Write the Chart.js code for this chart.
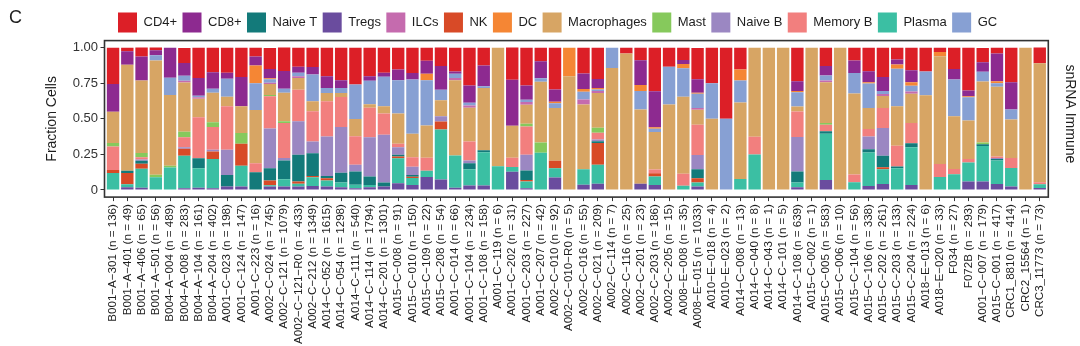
<!DOCTYPE html>
<html>
<head>
<meta charset="utf-8">
<script src="https://cdn.jsdelivr.net/npm/chart.js@4.4.1/dist/chart.umd.min.js"></script>
<style>
  html, body { margin: 0; padding: 0; background: #ffffff; }
  canvas { display: block; }
</style>
</head>
<body>
<canvas id="chart" width="1080" height="346"></canvas>
<script>
// Samples along the x axis and the number of immune nuclei in each
const SAMPLES = [
  'B001-A-301','B001-A-401','B001-A-406','B001-A-501','B004-A-004','B004-A-008','B004-A-104','B004-A-204','A001-C-023','A001-C-124',
  'A001-C-223','A002-C-024','A002-C-121','A002-C-121-R0','A002-C-212','A014-C-052','A014-C-054','A014-C-111','A014-C-114','A014-C-201',
  'A015-C-008','A015-C-010','A015-C-109','A015-C-208','A001-C-014','A001-C-104','A001-C-108','A001-C-119','A001-C-202','A001-C-203',
  'A001-C-207','A002-C-010','A002-C-010-R0','A002-C-016','A002-C-021','A002-C-114','A002-C-116','A002-C-201','A002-C-203','A002-C-205',
  'A008-E-008','A008-E-015','A010-E-018','A010-E-023','A014-C-008','A014-C-040','A014-C-043','A014-C-101','A014-C-108','A015-C-002',
  'A015-C-005','A015-C-006','A015-C-104','A015-C-106','A015-C-202','A015-C-203','A015-C-204','A018-E-013','A018-E-020','F034',
  'F072B','A001-C-007','A015-C-001','CRC1_8810','CRC2_15564','CRC3_11773'
];
const CELL_COUNTS = [
  136,49,65,56,489,283,161,402,198,147,
  16,745,1079,433,1349,1615,1298,540,1794,1301,
  91,150,22,54,66,234,158,6,31,227,
  42,92,5,55,209,7,25,23,186,15,
  35,1033,4,2,13,8,1,5,639,1,
  583,10,56,338,261,133,224,6,33,27,
  293,179,417,414,1,73
];

// Fraction of cells of each type per sample
const CD4 = [
  .255,.025,.063,.018,0,.106,.212,.172,.176,.205,
  .0625,.148,.165,.134,.134,.2,.228,.259,.2,.176,
  .153,.176,.091,.13,.167,.265,.125,0,.226,.265,
  .095,.293,0,.182,.22,0,.04,.087,.306,.133,
  .086,.22,.25,.5,.154,0,0,0,.235,0,
  .129,0,.089,.165,.205,.082,.158,.167,.03,.148,
  .3,.101,.04,.242,0,.11
];
const CD8 = [
  .195,.095,.168,.036,.21,.089,.125,.117,.042,.207,
  .0625,.064,.125,.042,.054,.082,.054,0,.033,.028,
  .075,.047,.091,.167,.015,.122,.146,0,.323,.1,
  .119,.087,0,.109,.064,0,0,.174,.253,0,
  .029,.094,0,0,0,0,0,0,.07,0,
  .066,0,.089,.078,.1,.035,.085,0,0,.074,
  .042,.066,.195,.193,0,0
];
const DC = [
  0,0,0,0,0,0,0,0,0,0,
  .125,.008,0,0,0,0,0,0,0,0,
  0,0,.045,0,0,0,0,0,0,0,
  0,.011,.2,.018,.01,0,0,.043,.011,0,
  .029,.008,0,0,.077,0,0,0,.008,0,
  0,0,0,.009,0,.03,.024,0,.03,0,
  .007,0,.014,0,0,0
];
const GC = [
  0,0,0,.036,.122,.035,.012,.028,.127,0,
  .1875,.025,.028,.025,.188,.035,.035,.242,.165,.207,
  .235,.381,.318,.074,.03,.019,.012,0,0,.016,
  .024,.033,0,.055,.01,.143,0,.13,.022,.267,
  .2,.1,.25,.5,.154,0,0,0,.1,0,
  .035,0,.143,.172,.02,.263,.04,.167,0,.259,
  .163,.068,.024,.07,0,0
];
const ILCS = [
  0,0,0,0,0,.012,.01,0,0,0,
  0,.008,0,.012,0,0,0,0,0,0,
  0,0,0,0,.015,.016,0,0,0,.02,
  0,0,0,.036,.014,0,0,0,0,0,
  0,.012,0,0,0,0,0,0,0,0,
  .012,0,0,0,.015,0,.016,0,0,0,
  0,0,0,0,0,0
];
const MACROPHAGES = [
  .22,.745,.51,.804,.497,.346,.129,.207,.066,.188,
  .375,.077,.2,.082,.07,.059,.028,.122,.024,.052,
  .212,.165,.227,.111,.53,.237,.438,.833,.226,.134,
  .428,.37,.8,.455,.245,.857,.96,.522,.264,.6,
  .541,.106,.5,0,.538,.625,1,1,.035,1,
  .287,1,.571,.148,.084,.278,.207,.666,.758,.37,
  .271,.43,.49,.271,1,.836
];
const MAST = [
  .025,0,.03,.018,.012,.04,0,.033,0,.075,
  0,.01,.012,0,0,0,0,0,0,0,
  0,0,0,0,0,0,0,0,0,.018,
  .071,0,0,0,.035,0,0,0,0,0,
  0,0,0,0,0,0,0,0,0,0,
  .012,0,0,0,0,0,0,0,0,0,
  0,.012,0,0,0,0
];
const MEMORY_B = [
  .165,0,.015,0,0,.07,.289,.16,.307,0,
  .0625,.226,.247,.222,.212,.247,.212,.2,.207,.148,
  .024,.066,.091,0,0,.134,0,0,.065,.2,
  0,0,0,0,.048,0,0,0,.027,0,
  .086,.212,0,0,0,.125,0,0,.18,0,
  .047,0,.054,.052,.141,.146,.141,0,.091,.037,
  .024,0,.012,.07,0,.014
];
const NAIVE_B = [
  0,0,.01,0,0,.01,0,.012,.176,0,
  0,.28,.016,.235,.082,.278,.32,.047,.277,.337,
  .054,.059,0,.037,0,.019,0,0,0,.11,
  0,0,0,0,.012,0,0,0,0,0,
  0,.1,0,0,0,0,0,0,.242,0,
  0,0,0,.089,.195,0,0,0,0,0,
  0,0,.007,0,0,0
];
const NAIVE_T = [
  0,.015,.02,0,0,0,.07,0,.082,0,
  .125,.085,.132,.188,.16,.016,.07,.094,.059,.028,
  .012,.012,0,0,0,.042,.013,0,0,.066,
  0,0,0,0,.012,0,0,0,0,0,
  0,.064,0,0,0,0,0,0,.078,0,
  .016,0,0,.024,.08,.012,.028,0,0,0,
  0,.012,.01,0,0,0
];
const NK = [
  .02,.08,.035,0,0,.05,0,.054,0,.155,
  0,.033,0,.016,.01,.016,0,0,0,0,
  .012,.008,0,.056,0,0,0,0,0,.012,
  0,.054,0,0,.153,0,0,0,.022,0,
  0,.03,0,0,0,0,0,0,0,0,
  0,0,0,0,.014,0,0,0,0,0,
  0,0,0,0,0,0
];
const PLASMA = [
  .12,.02,.135,.089,.158,.228,.137,.205,0,.146,
  0,.01,.052,.02,.061,.042,.033,.024,.016,0,
  .176,.05,.045,.352,.227,.115,.235,.167,.032,.047,
  .262,.065,0,.109,.134,0,0,0,.06,0,
  .029,.028,0,0,.077,.25,0,0,.033,0,
  .325,0,.054,.235,.104,.153,.266,0,.091,.111,
  .134,.25,.165,.13,0,.027
];
const TREGS = [
  0,.02,.015,0,0,.012,.016,.012,.024,.024,
  0,.024,.024,.024,.028,.024,.019,.012,.019,.024,
  .047,.035,.091,.074,.015,.031,.031,0,.129,.012,
  0,.087,0,.036,.043,0,0,.043,.035,0,
  0,.024,0,0,0,0,0,0,.019,0,
  .071,0,0,.028,.042,0,.035,0,0,0,
  .059,.059,.042,.024,0,.014
];

const Y_TICKS = [0, 0.25, 0.5, 0.75, 1];

// Stacked from the bottom of each bar upwards
const SERIES = [
  { label: 'Tregs',       data: TREGS,       color: '#6a4c9e' },
  { label: 'Plasma',      data: PLASMA,      color: '#3bbfa3' },
  { label: 'NK',          data: NK,          color: '#d84a27' },
  { label: 'Naive T',     data: NAIVE_T,     color: '#137a7a' },
  { label: 'Naive B',     data: NAIVE_B,     color: '#9b87c2' },
  { label: 'Memory B',    data: MEMORY_B,    color: '#f27f7e' },
  { label: 'Mast',        data: MAST,        color: '#86c95c' },
  { label: 'Macrophages', data: MACROPHAGES, color: '#d7a564' },
  { label: 'ILCs',        data: ILCS,        color: '#c56bae' },
  { label: 'GC',          data: GC,          color: '#87a0d3' },
  { label: 'DC',          data: DC,          color: '#f58634' },
  { label: 'CD8+',        data: CD8,         color: '#8d2a90' },
  { label: 'CD4+',        data: CD4,         color: '#dc1f27' }
];

// Order of the entries in the key
const LEGEND_ORDER = ['CD4+','CD8+','Naive T','Tregs','ILCs','NK','DC','Macrophages','Mast','Naive B','Memory B','Plasma','GC'];

const FONT = "'Liberation Sans', Arial, Helvetica, sans-serif";
const INK = '#1e1e1e';
const FRAME = '#333333';

const labels = SAMPLES.map((s, i) => s.replace(/-/g, '\u2212') + ' (n = ' + CELL_COUNTS[i] + ')');

// Panel frame, panel tag and strip text, plus nudging the key
const panelDecor = {
  id: 'panelDecor',
  afterLayout(chart) {
    const lg = chart.legend;
    if (!lg || !lg.lineWidths) return;
    const pad = lg.options.labels.padding;
    const start = (lg.left + pad + lg.right - lg.lineWidths[0]) / 2;
    const dx = 118 - start;
    lg.left += dx; lg.right += dx;
    lg.top += 1.8; lg.bottom += 1.8;
  },
  afterDatasetsDraw(chart) {
    const { ctx, chartArea: a } = chart;
    ctx.save();
    ctx.strokeStyle = FRAME;
    ctx.lineWidth = 1.6;
    ctx.strokeRect(a.left, a.top, a.right - a.left, a.bottom - a.top);
    ctx.restore();
  },
  afterDraw(chart) {
    const { ctx, chartArea: a } = chart;
    ctx.save();
    ctx.fillStyle = INK;
    ctx.font = '18px ' + FONT;
    ctx.textBaseline = 'middle';
    ctx.textAlign = 'left';
    ctx.fillText('C', 9, 18.5);
    ctx.translate(1070, (a.top + a.bottom) / 2 - 5);
    ctx.rotate(Math.PI / 2);
    ctx.font = '14px ' + FONT;
    ctx.textAlign = 'center';
    ctx.fillText('snRNA Immune', 0, 0);
    ctx.restore();
  }
};

Chart.defaults.font.family = FONT;
Chart.defaults.color = INK;

new Chart(document.getElementById('chart'), {
  type: 'bar',
  data: {
    labels: labels,
    datasets: SERIES.map(s => ({
      label: s.label,
      data: s.data,
      backgroundColor: s.color,
      borderWidth: 0,
      barPercentage: 0.87,
      categoryPercentage: 1.0
    }))
  },
  options: {
    responsive: false,
    animation: false,
    devicePixelRatio: 1,
    layout: { padding: { top: 5.2, right: 31.7, bottom: 0, left: 0 } },
    plugins: {
      legend: {
        position: 'top',
        align: 'center',
        labels: {
          boxWidth: 19,
          boxHeight: 20,
          padding: 5.4,
          color: INK,
          font: { size: 13, family: FONT },
          sort: (a, b) => LEGEND_ORDER.indexOf(a.text) - LEGEND_ORDER.indexOf(b.text)
        }
      },
      tooltip: { enabled: false },
      title: { display: false }
    },
    scales: {
      x: {
        stacked: true,
        offset: true,
        border: { display: false },
        grid: { display: true, drawOnChartArea: false, drawTicks: true, tickLength: 4, offset: false, color: FRAME, lineWidth: 1 },
        ticks: { autoSkip: false, maxRotation: 90, minRotation: 90, padding: 3, color: INK, font: { size: 11.6, family: FONT } },
        afterBuildTicks(s) {
          // discrete axis padded by 0.6 of a category on each side
          s._startValue = -0.6;
          s._valueRange = SAMPLES.length - 1 + 1.2;
        },
        afterFit(s) { s.height = 148.9; }
      },
      y: {
        stacked: true,
        min: -0.05,
        max: 1.05,
        border: { display: false },
        grid: { display: true, drawOnChartArea: false, drawTicks: true, tickLength: 4, color: FRAME, lineWidth: 1 },
        ticks: {
          padding: 2.5,
          color: '#333333',
          font: { size: 13, family: FONT },
          callback: v => (v === 0 ? '0' : v.toFixed(2))
        },
        afterBuildTicks(s) { s.ticks = Y_TICKS.map(v => ({ value: v })); },
        title: { display: true, text: 'Fraction Cells', color: INK, font: { size: 14, family: FONT }, padding: { top: 44.1, bottom: 0 } },
        afterFit(s) { s.width = 104.5; }
      }
    }
  },
  plugins: [panelDecor]
});
</script>
</body>
</html>
